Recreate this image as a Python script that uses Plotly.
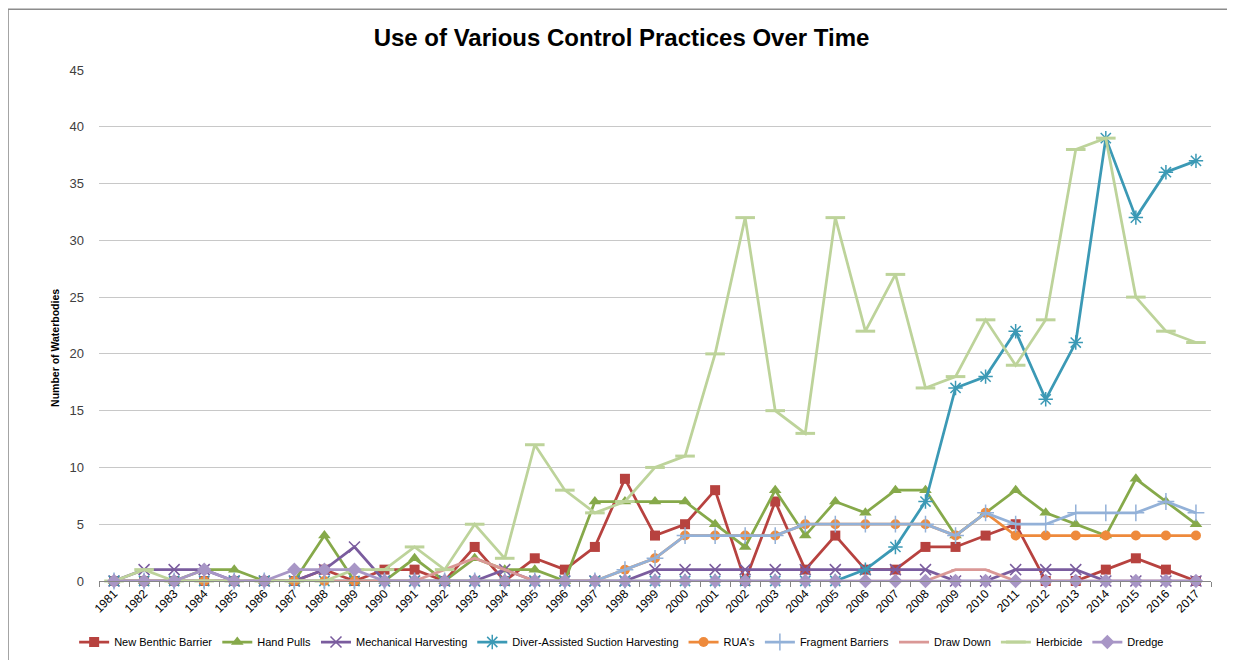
import plotly.graph_objects as go

years = [str(y) for y in range(1981, 2018)]

new_benthic_barrier = [0,0,0,0,0,0,0,1,0,1,1,0,3,0,2,1,3,9,4,5,8,0,7,1,4,1,1,3,3,4,5,0,0,1,2,1,0]
hand_pulls          = [0,0,0,1,1,0,0,4,0,0,2,0,2,1,1,0,7,7,7,7,5,3,8,4,7,6,8,8,4,6,8,6,5,4,9,7,5]
mechanical_harv     = [0,1,1,1,0,0,0,1,3,0,0,0,0,1,0,0,0,0,1,1,1,1,1,1,1,1,1,1,0,0,1,1,1,0,0,0,0]
diver_assisted      = [0,0,0,0,0,0,0,0,0,0,0,0,0,0,0,0,0,0,0,0,0,0,0,0,0,1,3,7,17,18,22,16,21,39,32,36,37]
ruas                = [0,0,0,0,0,0,0,0,0,0,0,0,0,0,0,0,0,1,2,4,4,4,4,5,5,5,5,5,4,6,4,4,4,4,4,4,4]
fragment_barriers   = [0,0,0,0,0,0,0,0,0,0,0,0,0,0,0,0,0,1,2,4,4,4,4,5,5,5,5,5,4,6,5,5,6,6,6,7,6]
draw_down           = [0,0,0,0,0,0,0,0,0,0,0,1,2,1,0,0,0,0,0,0,0,0,0,0,0,0,0,0,1,1,0,0,0,0,0,0,0]
herbicide           = [0,1,0,0,0,0,0,0,1,1,3,1,5,2,12,8,6,7,10,11,20,32,15,13,32,22,27,17,18,23,19,23,38,39,25,22,21]
dredge              = [0,0,0,1,0,0,1,1,1,0,0,0,0,0,0,0,0,0,0,0,0,0,0,0,0,0,0,0,0,0,0,0,0,0,0,0,0]

y_ticks = [0, 5, 10, 15, 20, 25, 30, 35, 40, 45]

series = [
    ("New Benthic Barrier", new_benthic_barrier, "#B7423F", "square", 10, 0),
    ("Hand Pulls", hand_pulls, "#86A94A", "triangle-up", 11, 0),
    ("Mechanical Harvesting", mechanical_harv, "#7A5C9E", "x-thin-open", 11, 1.5),
    ("Diver-Assisted Suction Harvesting", diver_assisted, "#3B99B5", "asterisk-open", 12, 1.5),
    ("RUA's", ruas, "#EE8A3C", "circle", 10, 0),
    ("Fragment Barriers", fragment_barriers, "#93B1D8", "cross-thin-open", 12, 1.5),
    ("Draw Down", draw_down, "#DA9896", "line-ew-open", 6, 1),
    ("Herbicide", herbicide, "#BDD39A", "line-ew-open", 14, 3),
    ("Dredge", dredge, "#A896C6", "diamond", 11, 0),
]

fig = go.Figure()
for name, vals, color, sym, size, lw in series:
    marker = dict(symbol=sym, size=size, color=color)
    if lw:
        marker["line"] = dict(width=lw, color=color)
    fig.add_trace(go.Scatter(
        x=years, y=vals, name=name, mode="lines+markers",
        line=dict(color=color, width=2.75),
        marker=marker, cliponaxis=False,
    ))

font_main = "Liberation Sans, Arial"

# page body has an 8px default margin, so the figure is sized to fit the window
fig.update_layout(
    width=1227, height=652,
    margin=dict(l=91, r=24, t=62, b=79),
    paper_bgcolor="white", plot_bgcolor="white",
    title=dict(text="<b>Use of Various Control Practices Over Time</b>",
               x=0.5, xanchor="center", y=0.955, yanchor="middle",
               font=dict(family=font_main, size=24, color="black")),
    font=dict(family=font_main, color="black"),
    showlegend=True,
    legend=dict(orientation="h", x=0.47, xanchor="center",
                yref="container", y=0.0276, yanchor="middle",
                font=dict(family=font_main, size=11, color="black"),
                itemwidth=30, tracegroupgap=0, bgcolor="rgba(0,0,0,0)"),
    shapes=[dict(type="rect", xref="paper", yref="paper",
                 x0=-0.0818, x1=1.0153, y0=-0.17, y1=1.119,
                 line=dict(color="#8C8C8C", width=1.5), fillcolor="rgba(0,0,0,0)", layer="below")],
    annotations=[dict(text="<b>Number of Waterbodies</b>", textangle=-90,
                      xref="paper", yref="paper", x=-0.0396, y=0.456,
                      xanchor="center", yanchor="middle", showarrow=False,
                      font=dict(family=font_main, size=10.5, color="black"))],
)

fig.update_xaxes(
    type="category", range=[-0.5, 36.5], automargin=False,
    tickangle=-45, tickfont=dict(family=font_main, size=12, color="black"),
    showgrid=False, showline=True, linecolor="#868686", linewidth=1,
    ticks="outside", ticklen=5, tickcolor="#868686", tickson="boundaries",
    zeroline=False,
)
fig.update_yaxes(
    range=[0, 45], tickvals=y_ticks, automargin=False,
    tickfont=dict(family=font_main, size=13, color="#404040"),
    showgrid=True, gridcolor="#C8C8C8", gridwidth=1,
    zeroline=False, showline=False, ticks="", ticklabelstandoff=14,
)

fig.write_html("out.html")
